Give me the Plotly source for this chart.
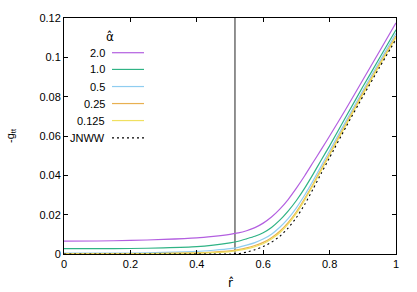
import plotly.graph_objects as go

r = [0.0, 0.1, 0.2, 0.3, 0.4, 0.45, 0.5, 0.525, 0.55, 0.575, 0.6, 0.625, 0.65, 0.675, 0.7,
     0.725, 0.75, 0.775, 0.8, 0.85, 0.9, 0.95, 1.0]

g_a2 = [0.0065, 0.0066, 0.0069, 0.0074, 0.0082, 0.0090, 0.0100, 0.0107, 0.0118, 0.0134, 0.0157,
        0.0188, 0.0228, 0.0277, 0.0335, 0.0398, 0.0465, 0.0532, 0.0600, 0.0740, 0.0885, 0.1030, 0.1175]
g_a1 = [0.0027, 0.0027, 0.0028, 0.0031, 0.0037, 0.0045, 0.0057, 0.0065, 0.0077, 0.0090, 0.0108,
        0.0135, 0.0172, 0.0218, 0.0272, 0.0335, 0.0405, 0.0478, 0.0550, 0.0700, 0.0850, 0.0995, 0.1140]
g_a05 = [0.0004, 0.0004, 0.0005, 0.0008, 0.0013, 0.0019, 0.0027, 0.0034, 0.0045, 0.0058, 0.0076,
         0.0101, 0.0136, 0.0180, 0.0235, 0.0300, 0.0372, 0.0448, 0.0525, 0.0678, 0.0830, 0.0977, 0.1122]
g_a025 = [0.0002, 0.0002, 0.0002, 0.0003, 0.0006, 0.0010, 0.0016, 0.0022, 0.0031, 0.0043, 0.0059,
          0.0083, 0.0116, 0.0160, 0.0215, 0.0282, 0.0355, 0.0432, 0.0510, 0.0665, 0.0818, 0.0965, 0.1108]
g_a0125 = [0.0001, 0.0001, 0.0001, 0.0002, 0.0004, 0.0007, 0.0012, 0.0018, 0.0026, 0.0037, 0.0052,
           0.0076, 0.0108, 0.0152, 0.0207, 0.0274, 0.0348, 0.0425, 0.0503, 0.0658, 0.0810, 0.0958, 0.1102]
g_jnww = [0.0, 0.0, 0.0, 0.0, 0.0, 0.0, 0.0, 0.0002, 0.0010, 0.0022, 0.0038,
          0.0060, 0.0090, 0.0132, 0.0185, 0.0252, 0.0330, 0.0410, 0.0490, 0.0648, 0.0800, 0.0948, 0.1092]

series_names = ["2.0", "1.0", "0.5", "0.25", "0.125"]
series_vals = [g_a2, g_a1, g_a05, g_a025, g_a0125]
series_colors = ["#b35fe0", "#2fb385", "#8fcdf0", "#e8b050", "#f0e060"]

vline_r = [0.515, 0.515]
vline_g = [0.0, 0.12]

x_ticks = [0, 0.2, 0.4, 0.6, 0.8, 1.0]
x_tick_labels = ["0", "0.2", "0.4", "0.6", "0.8", "1"]
y_ticks = [0, 0.02, 0.04, 0.06, 0.08, 0.1, 0.12]
y_tick_labels = ["0", "0.02", "0.04", "0.06", "0.08", "0.1", "0.12"]

FONT = "Liberation Sans, Arial, sans-serif"
HATFONT = "DejaVu Sans, sans-serif"

fig = go.Figure()

fig.add_trace(go.Scatter(x=vline_r, y=vline_g, mode="lines",
                         line=dict(color="#222222", width=1), showlegend=False, hoverinfo="skip"))

for name, vals, col in zip(series_names, series_vals, series_colors):
    fig.add_trace(go.Scatter(x=r, y=vals, mode="lines", name=name,
                             line=dict(color=col, width=1.2, shape="spline", smoothing=0.6),
                             showlegend=False))

fig.add_trace(go.Scatter(x=r, y=g_jnww, mode="lines", name="JNWW",
                         line=dict(color="black", width=1.1, dash="2px,3px", shape="spline", smoothing=0.6),
                         showlegend=False))

FIG_W, FIG_H = 417, 292
# plot area in window pixels: x 64..396, y 14..254
L, R, T, B = 64, 21, 14, 38
W, H = 396 - 64, 254 - 14

def px(xp):
    return (xp - 64) / W

def py(yp):
    return (254 - yp) / H

annotations = []
shapes = []

# legend
annotations.append(dict(x=px(110), y=py(33), xref="paper", yref="paper", text="α̂",
                        showarrow=False, xanchor="center", yanchor="middle",
                        font=dict(family=HATFONT, size=12, color="black")))
leg_names = series_names + ["JNWW"]
leg_colors = series_colors + ["black"]
row_y = [49.3, 66.3, 83.7, 101.0, 118.3, 136.0]
for i, (nm, col) in enumerate(zip(leg_names, leg_colors)):
    annotations.append(dict(x=px(106.5), y=py(row_y[i]), xref="paper", yref="paper", text=nm,
                            showarrow=False, xanchor="right", yanchor="middle",
                            font=dict(family=FONT, size=11, color="black")))
    shapes.append(dict(type="line", xref="paper", yref="paper",
                       x0=px(112), x1=px(144), y0=py(row_y[i]), y1=py(row_y[i]),
                       line=dict(color=col, width=1.2, dash="2px,3px" if nm == "JNWW" else "solid")))

# axis labels
annotations.append(dict(x=px(230), y=py(283), xref="paper", yref="paper", text="r̂",
                        showarrow=False, xanchor="center", yanchor="middle",
                        font=dict(family=HATFONT, size=12, color="black")))
annotations.append(dict(x=px(11), y=py(134), xref="paper", yref="paper", text="-g<sub>tt</sub>",
                        showarrow=False, xanchor="center", yanchor="middle", textangle=-90,
                        font=dict(family=FONT, size=11, color="black")))

fig.update_layout(
    width=FIG_W, height=FIG_H,
    margin=dict(l=L, r=R, t=T, b=B),
    paper_bgcolor="white", plot_bgcolor="white",
    font=dict(family=FONT, size=11, color="black"),
    annotations=annotations, shapes=shapes,
    showlegend=False,
)
fig.update_xaxes(range=[0, 1], tickvals=x_ticks, ticktext=x_tick_labels,
                 showgrid=False, zeroline=False, showline=True, linecolor="black", linewidth=1,
                 mirror="ticks", ticks="inside", ticklen=4, tickcolor="black",
                 ticklabeloverflow="allow",
                 tickfont=dict(family=FONT, size=11, color="black"))
fig.update_yaxes(range=[0, 0.12], tickvals=y_ticks, ticktext=y_tick_labels,
                 showgrid=False, zeroline=False, showline=True, linecolor="black", linewidth=1,
                 mirror="ticks", ticks="inside", ticklen=4, tickcolor="black",
                 ticklabeloverflow="allow",
                 tickfont=dict(family=FONT, size=11, color="black"))

fig.write_html("out.html", config={"displayModeBar": False},
               post_script="document.body.style.margin='0';document.body.style.overflow='hidden';")
